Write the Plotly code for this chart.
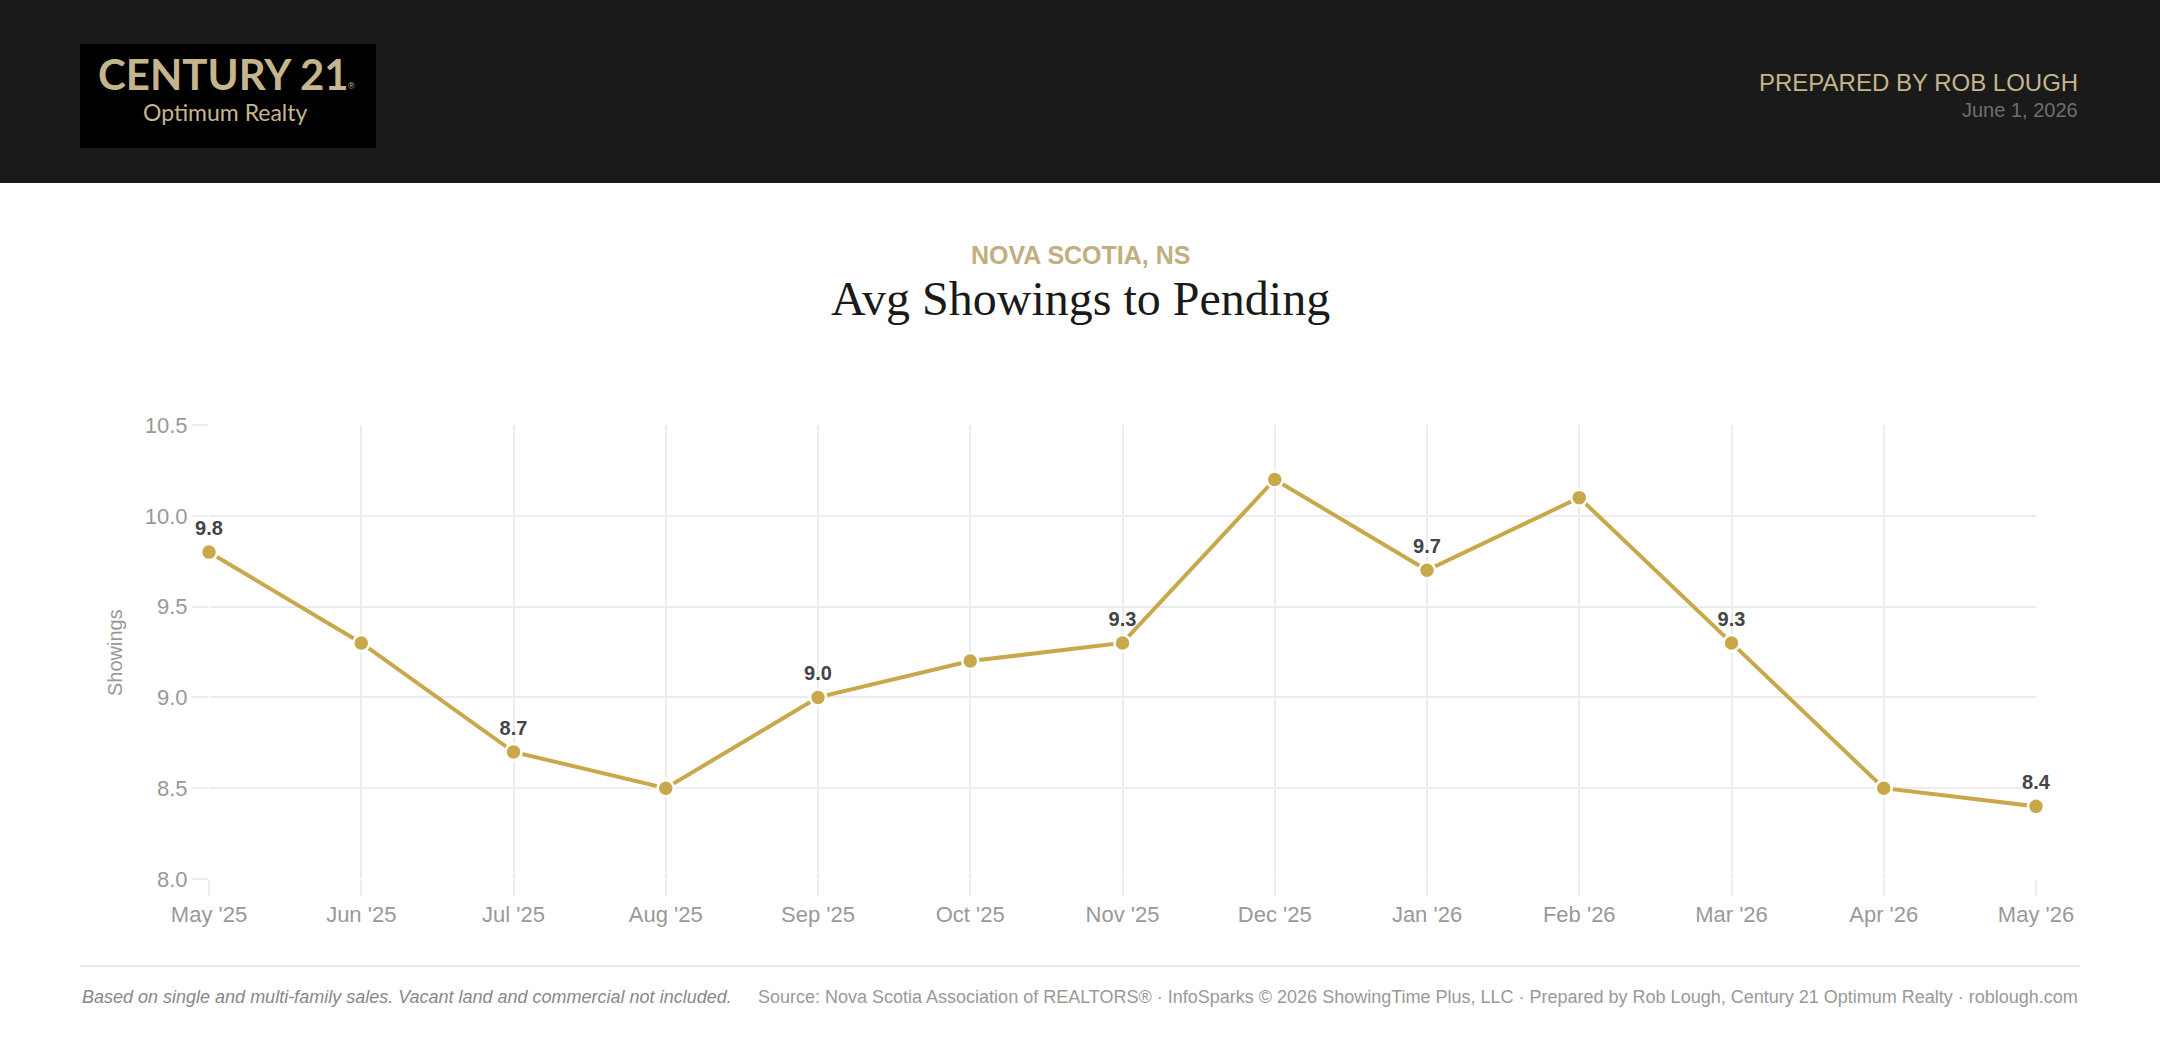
import plotly.graph_objects as go

months = ["May '25", "Jun '25", "Jul '25", "Aug '25", "Sep '25", "Oct '25", "Nov '25",
          "Dec '25", "Jan '26", "Feb '26", "Mar '26", "Apr '26", "May '26"]
showings = [9.8, 9.3, 8.7, 8.5, 9.0, 9.2, 9.3, 10.2, 9.7, 10.1, 9.3, 8.5, 8.4]
labelled_idx = [0, 2, 4, 6, 8, 10, 12]
y_ticks = [8.0, 8.5, 9.0, 9.5, 10.0, 10.5]

W, H = 2160, 1048
L, R, T, B = 209, 2036, 425, 879
PW, PH = R - L, B - T

def px(x):
    return (x - L) / PW

def py(y):
    return (B - y) / PH

GOLD = "#C9A84C"
TAN = "#C4B58C"
GRID = "#ECECEC"

fig = go.Figure()
fig.add_trace(go.Scatter(
    x=months, y=showings, mode="lines+markers",
    line=dict(color=GOLD, width=4),
    marker=dict(size=16, color=GOLD, line=dict(color="white", width=2.5)),
    cliponaxis=False, hoverinfo="x+y",
))
fig.add_trace(go.Scatter(
    x=[months[i] for i in labelled_idx], y=[showings[i] for i in labelled_idx],
    mode="markers+text", text=[f"{showings[i]:.1f}" for i in labelled_idx],
    textposition="top center",
    marker=dict(size=18, color="rgba(0,0,0,0)"),
    textfont=dict(family="Liberation Sans, Arial", size=20, color="#444444", weight="bold"),
    cliponaxis=False, hoverinfo="skip",
))

shapes = [
    dict(type="rect", xref="paper", yref="paper", x0=px(0), x1=px(W), y0=py(183), y1=py(0),
         fillcolor="#1A1A1A", line=dict(width=0), layer="below"),
    dict(type="rect", xref="paper", yref="paper", x0=px(80), x1=px(376), y0=py(148), y1=py(44),
         fillcolor="#000000", line=dict(width=0), layer="below"),
    dict(type="line", xref="paper", yref="paper", x0=px(80), x1=px(2080), y0=py(966), y1=py(966),
         line=dict(color="#E6E1D6", width=1.5)),
]

def ann(text, x, y, size, color, family="Liberation Sans, Arial", xanchor="center",
        weight="normal", style="normal", angle=0):
    return dict(text=text, x=px(x), y=py(y), xref="paper", yref="paper", showarrow=False,
                xanchor=xanchor, yanchor="middle", textangle=angle,
                font=dict(family=family, size=size, color=color, weight=weight, style=style))

annotations = [
    ann("CENTURY 21", 96, 74, 42, TAN, family="Lato, Inter", xanchor="left", weight="bold"),
    ann("®", 346, 86, 9, TAN, family="Liberation Sans, Arial", xanchor="left"),
    ann("Optimum Realty", 225, 112, 23, TAN, family="Lato, Inter", weight="normal"),
    ann("PREPARED BY ROB LOUGH", 2080, 83, 24, TAN, xanchor="right"),
    ann("June 1, 2026", 2080, 110, 20, "#6F6F6F", xanchor="right"),
    ann("NOVA SCOTIA, NS", 1080, 255, 25, "#C2AE7F", weight="bold"),
    ann("Avg Showings to Pending", 1080, 298, 48, "#1A1A1A", family="Liberation Serif, Georgia, serif"),
    ann("Showings", 115, 653, 20, "#999999", angle=-90),
    ann("Based on single and multi-family sales. Vacant land and commercial not included.",
        80, 997, 18, "#888888", xanchor="left", style="italic"),
    ann("Source: Nova Scotia Association of REALTORS® · InfoSparks © 2026 ShowingTime Plus, LLC · "
        "Prepared by Rob Lough, Century 21 Optimum Realty · roblough.com",
        2080, 997, 18, "#999999", xanchor="right"),
]

fig.update_layout(
    width=W, height=H,
    margin=dict(l=L, r=W - R, t=T, b=H - B, autoexpand=False),
    paper_bgcolor="white", plot_bgcolor="white",
    showlegend=False,
    shapes=shapes, annotations=annotations,
    xaxis=dict(type="category", range=[0, len(months) - 1], showgrid=True, gridcolor=GRID,
               gridwidth=1.5, ticks="outside", ticklen=16, tickcolor=GRID, tickwidth=1.5,
               showline=False, zeroline=False, automargin=False,
               tickfont=dict(family="Liberation Sans, Arial", size=22, color="#999999")),
    yaxis=dict(range=[8.0, 10.5], tickvals=y_ticks, ticktext=[f"{v:.1f}" for v in y_ticks],
               showgrid=True, gridcolor=GRID, gridwidth=1.5, ticks="outside", ticklen=16,
               tickcolor=GRID, tickwidth=1.5, showline=False, zeroline=False, automargin=False,
               tickfont=dict(family="Liberation Sans, Arial", size=22, color="#999999")),
)

fig.write_html("out.html")
